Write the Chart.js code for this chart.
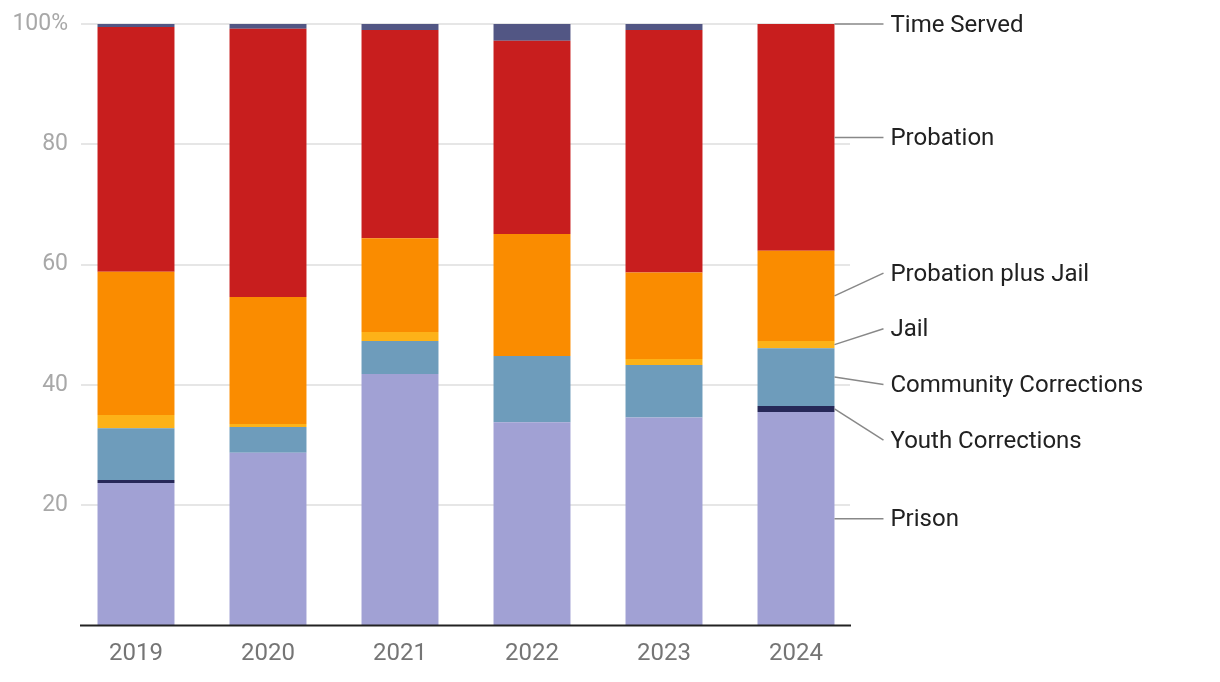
<!DOCTYPE html>
<html>
<head>
<meta charset="utf-8">
<script src="https://cdn.jsdelivr.net/npm/chart.js@4"></script>
<style>
  html, body { margin: 0; padding: 0; background: #fff; }
  #wrap { width: 1220px; height: 682px; }
</style>
</head>
<body>
<div id="wrap"><canvas id="chart_canvas" width="1220" height="682"></canvas></div>
<script>
// Données
const years = ['2019', '2020', '2021', '2022', '2023', '2024']
const prison = [23.7, 28.7, 41.8, 33.8, 34.6, 35.5]
const youthCorrections = [0.5, 0, 0, 0, 0, 1.0]
const communityCorrections = [8.6, 4.3, 5.5, 11.0, 8.7, 9.6]
const jail = [2.2, 0.5, 1.5, 0, 1.0, 1.2]
const probationPlusJail = [23.8, 21.1, 15.6, 20.3, 14.4, 15.0]
const probation = [40.7, 44.6, 34.6, 32.1, 40.3, 37.7]
const timeServed = [0.5, 0.8, 1.0, 2.8, 1.0, 0]
const yTicks = [20, 40, 60, 80, 100]

const series = [
    {label: 'Prison', data: prison, color: '#a1a1d4'},
    {label: 'Youth Corrections', data: youthCorrections, color: '#262858'},
    {label: 'Community Corrections', data: communityCorrections, color: '#6e9cbb'},
    {label: 'Jail', data: jail, color: '#fdb218'},
    {label: 'Probation plus Jail', data: probationPlusJail, color: '#fa8c00'},
    {label: 'Probation', data: probation, color: '#c81e1e'},
    {label: 'Time Served', data: timeServed, color: '#525684'},
]

const FONT = 'Roboto, "Noto Sans", sans-serif'

// grille + axe + étiquettes à droite
const decor = {
    id: 'decor',
    beforeDatasetsDraw(chart) {
        const {ctx, chartArea: {left, right}, scales: {y}} = chart
        ctx.save()
        ctx.strokeStyle = '#e6e6e6'
        ctx.lineWidth = 2
        yTicks.forEach(t => {
            const py = Math.round(y.getPixelForValue(t))
            ctx.beginPath()
            ctx.moveTo(left + 11, py)
            ctx.lineTo(right - 12, py)
            ctx.stroke()
        })
        ctx.restore()
    },
    afterDatasetsDraw(chart) {
        const {ctx, chartArea: {left, right, bottom}, scales: {y}} = chart
        ctx.save()
        ctx.strokeStyle = '#222'
        ctx.lineWidth = 2
        ctx.beginPath()
        ctx.moveTo(left + 10, bottom)
        ctx.lineTo(right - 11, bottom)
        ctx.stroke()

        // points d'ancrage : milieu de chaque segment de la dernière barre
        const last = years.length - 1
        let base = 0
        const items = series.map(s => {
            const v = s.data[last]
            const mid = base + v / 2
            base += v
            return {label: s.label, anchor: y.getPixelForValue(mid)}
        })
        const bar = chart.getDatasetMeta(0).data[last]
        const barRight = bar.x + bar.width / 2

        // éviter les chevauchements
        const gap = 55.7
        const sorted = items.slice().sort((a, b) => a.anchor - b.anchor)
        let clusters = []
        sorted.forEach(it => {
            clusters.push({items: [it], sum: it.anchor})
            let merged = true
            while (merged && clusters.length > 1) {
                merged = false
                const c = clusters[clusters.length - 1]
                const p = clusters[clusters.length - 2]
                const cTop = c.sum / c.items.length - (c.items.length - 1) * gap / 2
                const pBot = p.sum / p.items.length + (p.items.length - 1) * gap / 2
                if (cTop - pBot < gap) {
                    p.items = p.items.concat(c.items)
                    p.sum += c.sum
                    clusters.pop()
                    merged = true
                }
            }
        })
        clusters.forEach(c => {
            const start = c.sum / c.items.length - (c.items.length - 1) * gap / 2
            c.items.forEach((it, i) => { it.pos = start + i * gap })
        })

        ctx.strokeStyle = '#888'
        ctx.lineWidth = 1.5
        ctx.fillStyle = '#212121'
        ctx.font = '24px ' + FONT
        ctx.textBaseline = 'middle'
        ctx.textAlign = 'left'
        items.forEach(it => {
            ctx.beginPath()
            ctx.moveTo(barRight, it.anchor)
            ctx.lineTo(barRight + 49, it.pos)
            ctx.stroke()
            ctx.fillText(it.label, barRight + 56, it.pos + 1.5)
        })
        ctx.restore()
    }
}

const data = {
    labels: years,
    datasets: series.map(s => ({
        label: s.label,
        data: s.data,
        backgroundColor: s.color,
        borderWidth: 0,
        categoryPercentage: 1,
        barPercentage: 0.583
    }))
}

const config = {
    type: 'bar',
    data,
    options: {
        responsive: false,
        animation: false,
        layout: {
            padding: {top: 24, right: 358, bottom: 0, left: 0}
        },
        scales: {
            x: {
                stacked: true,
                grid: {display: false, drawTicks: false},
                border: {display: false},
                ticks: {
                    color: '#757575',
                    font: {family: FONT, size: 24},
                    padding: 14
                },
                afterFit: (scale) => { scale.height = 56.5 }
            },
            y: {
                stacked: true,
                min: 0,
                max: 100,
                grid: {display: false, drawTicks: false},
                border: {display: false},
                ticks: {
                    stepSize: 20,
                    color: '#a8a8a8',
                    font: {family: FONT, size: 23},
                    padding: 2,
                    callback: (v) => v === 0 ? '' : (v === 100 ? '100%' : v)
                },
                afterFit: (scale) => { scale.width = 70 }
            }
        },
        plugins: {
            legend: {display: false},
            tooltip: {enabled: false}
        }
    },
    plugins: [decor]
}

const ctx = document.getElementById('chart_canvas').getContext('2d')
const myChart = new Chart(ctx, config)
</script>
</body>
</html>
